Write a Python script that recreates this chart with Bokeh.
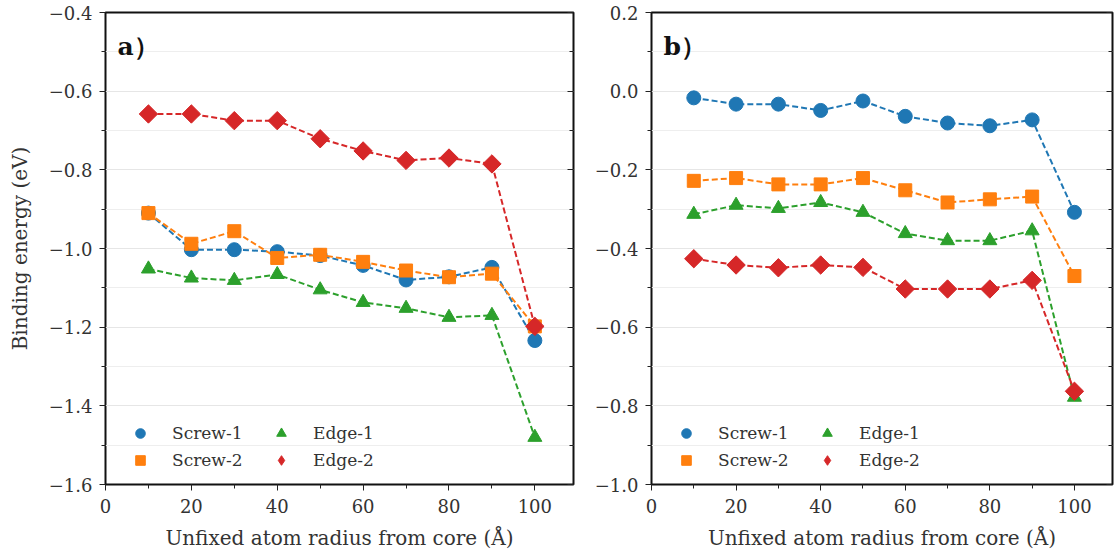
import math
from bokeh.plotting import figure
from bokeh.layouts import row
from bokeh.models import (Range1d, LinearAxis, Legend, LegendItem, SingleIntervalTicker,
                          CustomJSTickFormatter, Label)
from bokeh.embed import file_html
from bokeh.resources import INLINE

radius = [10, 20, 30, 40, 50, 60, 70, 80, 90, 100]

a_screw1 = [-0.91, -1.003, -1.003, -1.008, -1.018, -1.043, -1.08, -1.072, -1.048, -1.234]
a_screw2 = [-0.91, -0.988, -0.956, -1.024, -1.016, -1.034, -1.056, -1.073, -1.064, -1.198]
a_edge1 = [-1.052, -1.075, -1.081, -1.066, -1.105, -1.137, -1.152, -1.175, -1.17, -1.48]
a_edge2 = [-0.658, -0.658, -0.675, -0.675, -0.721, -0.752, -0.776, -0.77, -0.785, -1.198]

b_screw1 = [-0.017, -0.033, -0.033, -0.049, -0.025, -0.064, -0.081, -0.088, -0.073, -0.308]
b_screw2 = [-0.228, -0.221, -0.237, -0.237, -0.221, -0.252, -0.283, -0.275, -0.268, -0.47]
b_edge1 = [-0.313, -0.29, -0.298, -0.283, -0.308, -0.362, -0.38, -0.38, -0.355, -0.778]
b_edge2 = [-0.426, -0.442, -0.449, -0.442, -0.448, -0.503, -0.503, -0.503, -0.481, -0.763]

names = ["Screw-1", "Screw-2", "Edge-1", "Edge-2"]
colors = ["#1f77b4", "#ff7f0e", "#2ca02c", "#d62728"]
markers = ["circle", "square", "triangle", "square"]
legend_markers = ["circle", "square", "triangle", "diamond"]
msizes = [14, 13, 14, 13]
angles = [0, 0, 0, math.pi / 4]

SERIF = "DejaVu Serif"
minus_fmt = CustomJSTickFormatter(code="return tick.toFixed(1).replace('-', '\u2212');")


def make_legend(items, x):
    return Legend(items=items, location=(x, 12), orientation="vertical",
                  border_line_color=None, background_fill_alpha=0,
                  label_text_font=SERIF, label_text_font_size="17px", label_text_color="#333333",
                  glyph_width=24, glyph_height=24, spacing=3, label_standoff=20,
                  padding=8, margin=0)


def make_panel(series, yr, tag, width, left, right, ylabel):
    p = figure(width=width, height=557, x_range=Range1d(0, 109), y_range=Range1d(*yr),
               output_backend="svg", toolbar_location=None,
               min_border_left=left, min_border_right=right, min_border_top=12,
               min_border_bottom=73, background_fill_color="white", border_fill_color="white")
    p.outline_line_color = "#111111"
    p.outline_line_width = 2
    p.xgrid.visible = False
    p.ygrid.grid_line_color = "#e6e6e6"
    p.ygrid.grid_line_width = 1
    p.ygrid.minor_grid_line_color = "#eeeeee"
    p.ygrid.minor_grid_line_width = 1

    p.xaxis.ticker = SingleIntervalTicker(interval=20, num_minor_ticks=2)
    p.yaxis.ticker = SingleIntervalTicker(interval=0.2, num_minor_ticks=2)
    p.ygrid.ticker = p.yaxis.ticker
    p.yaxis.formatter = minus_fmt
    for ax in (p.xaxis[0], p.yaxis[0]):
        ax.axis_line_color = None
        ax.major_tick_line_color = "#222222"
        ax.minor_tick_line_color = "#222222"
        ax.major_tick_out = 6
        ax.major_tick_in = 0
        ax.minor_tick_out = 4
        ax.minor_tick_in = 0
        ax.major_label_text_font = SERIF
        ax.major_label_text_font_size = "18px"
        ax.major_label_text_color = "#333333"
        ax.axis_label_text_font = SERIF
        ax.axis_label_text_font_size = "20px"
        ax.axis_label_text_font_style = "normal"
        ax.axis_label_text_color = "#333333"
    p.xaxis.axis_label = "Unfixed atom radius from core (\u00c5)"
    p.xaxis.major_label_standoff = 8
    p.xaxis.axis_label_standoff = 10
    if ylabel:
        p.yaxis.axis_label = ylabel
        p.yaxis.axis_label_standoff = 14
    p.yaxis.major_label_standoff = 7

    rax = LinearAxis(ticker=p.yaxis.ticker, axis_line_color=None,
                     major_tick_line_color="#222222", minor_tick_line_color="#222222",
                     major_tick_out=0, major_tick_in=6, minor_tick_out=0, minor_tick_in=4,
                     major_label_text_color=None, major_label_text_font_size="1px",
                     major_label_standoff=0)
    p.add_layout(rax, "right")

    items = []
    for vals, name, c, m, lm, s, ang in zip(series, names, colors, markers, legend_markers,
                                           msizes, angles):
        p.line(radius, vals, line_color=c, line_width=2, line_dash="6 3")
        r = p.scatter(radius, vals, marker=m, size=s, angle=ang, fill_color=c, line_color=c)
        if lm != m:
            r = p.scatter(radius, vals, marker=lm, size=s, fill_color=c, line_color=c,
                          visible=False)
        items.append(LegendItem(label=name, renderers=[r]))

    p.add_layout(make_legend(items[:2], 23), "center")
    p.add_layout(make_legend(items[2:], 164), "center")

    p.add_layout(Label(x=0, y=yr[1], x_offset=12, y_offset=-48, text=tag, text_font=SERIF,
                       text_font_size="25px", text_font_style="bold", text_color="#111111"))
    return p


pa = make_panel([a_screw1, a_screw2, a_edge1, a_edge2], (-1.6, -0.4), "a\uff09", 580, 105, 7,
                "Binding energy (eV)")
pb = make_panel([b_screw1, b_screw2, b_edge1, b_edge2], (-1.0, 0.2), "b\uff09", 540, 71, 8, None)

p = row(pa, pb)
open("out.html", "w").write(file_html(p, INLINE))
